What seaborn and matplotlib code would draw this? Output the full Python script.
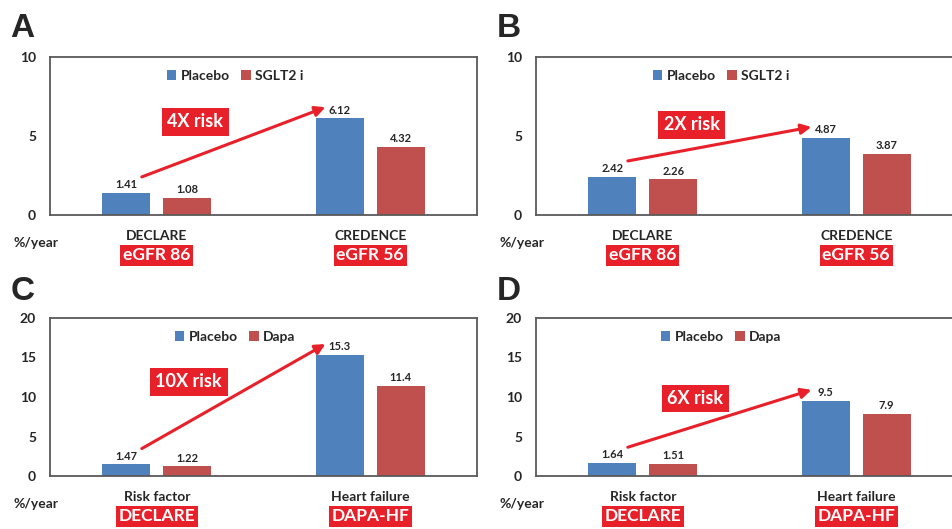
import pandas as pd
import matplotlib.pyplot as plt
import matplotlib.transforms as mtransforms
import seaborn as sns

sns.set_style('white')
plt.rcParams['font.family'] = ['Lato', 'DejaVu Sans']
plt.rcParams['font.weight'] = 'bold'

# data
arms_ab = ['Placebo', 'SGLT2 i']
arms_cd = ['Placebo', 'Dapa']
studies_ab = ['DECLARE', 'CREDENCE']
studies_cd = ['Risk factor', 'Heart failure']
tags_ab = ['eGFR 86', 'eGFR 56']
tags_cd = ['DECLARE', 'DAPA-HF']

placebo_a = [1.41, 6.12]
sglt2_a = [1.08, 4.32]
placebo_b = [2.42, 4.87]
sglt2_b = [2.26, 3.87]
placebo_c = [1.47, 15.3]
dapa_c = [1.22, 11.4]
placebo_d = [1.64, 9.5]
dapa_d = [1.51, 7.9]

risk_labels = ['4X risk', '2X risk', '10X risk', '6X risk']
y_max = [10, 10, 20, 20]

BLUE = '#4f81bd'
RED = '#c0504d'
ALERT = '#e8202a'

W, H = 952, 529
fig = plt.figure(figsize=(W / 100, H / 100), dpi=100)

# panel boxes in pixels: left, top
boxes = [(50, 57), (536, 57), (50, 318), (536, 318)]
aw, ah = 427, 158
letters = ['A', 'B', 'C', 'D']
letter_pos = [(10, 37), (497, 37), (11, 300), (497, 300)]
risk_pos = [(0.18, 0.59), (0.23, 0.57), (0.15, 0.595), (0.245, 0.49)]

panels = [
    (studies_ab, tags_ab, arms_ab, placebo_a, sglt2_a),
    (studies_ab, tags_ab, arms_ab, placebo_b, sglt2_b),
    (studies_cd, tags_cd, arms_cd, placebo_c, dapa_c),
    (studies_cd, tags_cd, arms_cd, placebo_d, dapa_d),
]

for i, (studies, tags, arms, ctrl, treat) in enumerate(panels):
    left, top = boxes[i]
    ax = fig.add_axes([left / W, 1 - (top + ah) / H, aw / W, ah / H])
    df = pd.DataFrame({'study': studies * 2,
                       'arm': [arms[0]] * 2 + [arms[1]] * 2,
                       'rate': ctrl + treat})
    sns.barplot(data=df, x='study', y='rate', hue='arm', palette=[BLUE, RED],
                width=0.57, gap=0.21, saturation=1, linewidth=0,
                errorbar=None, ax=ax)
    for cont, vals in zip(ax.containers, [ctrl, treat]):
        ax.bar_label(cont, labels=[f'{v:g}' for v in vals], fontsize=8, padding=2)

    ym = y_max[i]
    ax.set_xlim(-0.5, 1.5)
    ax.set_ylim(0, ym)
    ax.set_yticks(range(0, ym + 1, 5))
    ax.set_xlabel('')
    ax.set_ylabel('')
    ax.tick_params(axis='both', length=0)
    ax.tick_params(axis='y', pad=10, labelsize=10)
    ax.tick_params(axis='x', pad=11, labelsize=10)
    for s in ax.spines.values():
        s.set_color('#595959')
        s.set_linewidth(1.3)

    handles, labels = ax.get_legend_handles_labels()
    ax.legend(handles, labels, loc='center', bbox_to_anchor=(0.433, 0.88), ncol=2,
              frameon=False, fontsize=10, handlelength=0.7, handleheight=0.7,
              handletextpad=0.3, columnspacing=0.8)

    # risk arrow from first placebo bar to second
    ax.annotate('', xy=(0.79, ctrl[1] + 0.07 * ym), xytext=(-0.07, ctrl[0] + 0.1 * ym),
                arrowprops=dict(arrowstyle='-|>', color=ALERT, lw=2.2,
                                mutation_scale=15, shrinkA=0, shrinkB=0))
    rx, ry = risk_pos[i]
    ax.text(rx, ry * ym, risk_labels[i], color='white', fontsize=13,
            ha='center', va='center',
            bbox=dict(boxstyle='square,pad=0.3', fc=ALERT, ec='none'))

    trans = mtransforms.blended_transform_factory(ax.transData, ax.transAxes)
    for x, tag in enumerate(tags):
        ax.text(x, -0.255, tag, transform=trans, color='white', fontsize=12.5,
                ha='center', va='center', clip_on=False,
                bbox=dict(boxstyle='square,pad=0.15', fc=ALERT, ec='none'))

    fig.text((left - 37) / W, 1 - (top + ah + 28) / H, '%/year', fontsize=10,
             ha='left', va='center')
    lx, ly = letter_pos[i]
    fig.text(lx / W, 1 - ly / H, letters[i], fontsize=24, family='Liberation Sans',
             ha='left', va='baseline')

fig.savefig('out.png', dpi=100, facecolor='white')
